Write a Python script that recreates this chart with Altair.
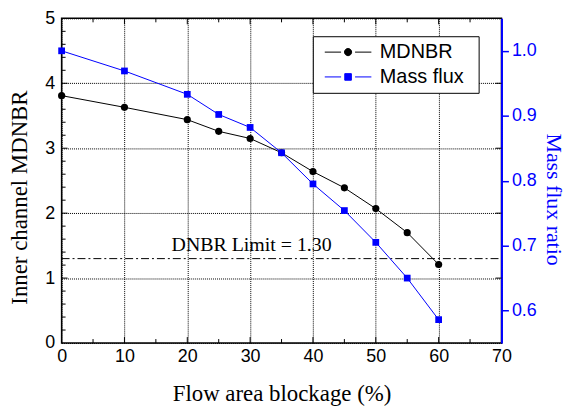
import altair as alt
import pandas as pd

# ---------------- data ----------------
blockage = [0, 10, 20, 25, 30, 35, 40, 45, 50, 55, 60]
mdnbr = [3.81, 3.63, 3.44, 3.26, 3.15, 2.93, 2.64, 2.39, 2.07, 1.70, 1.21]
mass_flux = [1.00, 0.969, 0.933, 0.902, 0.882, 0.843, 0.795, 0.754, 0.705, 0.650, 0.586]
series_names = ["MDNBR", "Mass flux"]
dnbr_limit = [1.30]
limit_label = ["DNBR Limit = 1.30"]
limit_label_x = [17.5]

x_ticks = [0, 10, 20, 30, 40, 50, 60, 70]
x_minor = [5, 15, 25, 35, 45, 55, 65]
y_left_ticks = [0, 1, 2, 3, 4, 5]
y_left_inner = [1, 2, 3, 4]
y_left_minor = [0.2, 0.4, 0.6, 0.8, 1.2, 1.4, 1.6, 1.8, 2.2, 2.4, 2.6, 2.8,
                3.2, 3.4, 3.6, 3.8, 4.2, 4.4, 4.6, 4.8]
y_right_ticks = [0.6, 0.7, 0.8, 0.9, 1.0]

W, H = 443, 327
SANS = "Liberation Sans"
SERIF = "Liberation Serif"
BLUE = "#0000ff"

df = pd.DataFrame({"x": blockage, "y": mdnbr, "m": mass_flux})

x_enc = alt.X(
    "x:Q",
    scale=alt.Scale(domain=[0, 70], nice=False, zero=False),
    axis=alt.Axis(
        values=x_ticks, format="d", title="Flow area blockage (%)",
        ticks=False, domain=False, grid=True, gridDash=[1, 1], gridColor="#000",
        gridWidth=1, labelFont=SANS, labelFontSize=18, labelColor="black",
        labelPadding=5, labelFlush=False, labelOverlap=False,
        titleFont=SERIF, titleFontSize=23, titleFontWeight="normal",
        titleColor="black", titleY=58, titleBaseline="alphabetic",
    ),
)

yL_enc = alt.Y(
    "y:Q",
    scale=alt.Scale(domain=[0, 5], nice=False, zero=False),
    axis=alt.Axis(
        values=y_left_ticks, format="d", title="Inner channel MDNBR",
        ticks=False, domain=False, grid=True, gridDash=[1, 1], gridColor="#000",
        gridWidth=1, labelFont=SANS, labelFontSize=18, labelColor="black",
        labelPadding=7, labelFlush=False, labelOverlap=False,
        titleFont=SERIF, titleFontSize=23, titleFontWeight="normal",
        titleColor="black", titleX=-35, titleY=180, titleAngle=270,
        titleBaseline="alphabetic", titleAlign="center",
    ),
)

yR_enc = alt.Y(
    "m:Q",
    scale=alt.Scale(domain=[0.55, 1.05], nice=False, zero=False),
    axis=alt.Axis(
        orient="right", values=y_right_ticks, format=".1f", title="Mass flux ratio",
        grid=False, domain=True, domainColor=BLUE, domainWidth=2,
        ticks=True, tickColor=BLUE, tickSize=7, tickWidth=1.5,
        labelFont=SANS, labelFontSize=18, labelColor=BLUE, labelPadding=3,
        labelFlush=False, labelOverlap=False,
        titleFont=SERIF, titleFontSize=22, titleFontWeight="normal",
        titleColor=BLUE, titleX=45, titleY=182, titleAngle=90,
        titleBaseline="alphabetic", titleAlign="center",
    ),
)

# ---------------- inward frame ticks ----------------
def yrule(vals, x0, x1):
    return alt.Chart(pd.DataFrame({"y": vals})).mark_rule(
        color="black", strokeWidth=1
    ).encode(y=yL_enc, x=alt.value(x0), x2=alt.value(x1))


def xrule(vals, y0, y1):
    return alt.Chart(pd.DataFrame({"x": vals})).mark_rule(
        color="black", strokeWidth=1
    ).encode(x=x_enc, y=alt.value(y0), y2=alt.value(y1))


ticks_layers = [
    yrule(y_left_inner, 0, 6),
    yrule(y_left_minor, 0, 4),
    yrule(y_left_inner, W - 6, W),
    xrule(x_ticks[1:-1], H, H - 6),
    xrule(x_minor, H, H - 4),
    xrule(x_ticks[1:-1], 0, 6),
    xrule(x_minor, 0, 4),
]

# ---------------- left series ----------------
mdnbr_line = alt.Chart(df).mark_line(color="black", strokeWidth=1).encode(x=x_enc, y=yL_enc)
mdnbr_pts = alt.Chart(df).mark_point(
    shape="circle", filled=True, size=52, color="black", opacity=1
).encode(x=x_enc, y=yL_enc)

limit_rule = alt.Chart(pd.DataFrame({"y": dnbr_limit})).mark_rule(
    color="black", strokeWidth=1, strokeDash=[8, 3, 2, 3]
).encode(y=yL_enc, x=alt.value(0), x2=alt.value(W))

limit_text = alt.Chart(
    pd.DataFrame({"x": limit_label_x, "y": dnbr_limit, "t": limit_label})
).mark_text(
    align="left", baseline="alphabetic", dy=-8, font=SERIF, fontSize=20, color="black"
).encode(x=x_enc, y=yL_enc, text="t:N")

left = alt.layer(*ticks_layers, limit_rule, limit_text, mdnbr_line, mdnbr_pts)

# ---------------- right series ----------------
mf_line = alt.Chart(df).mark_line(color=BLUE, strokeWidth=1).encode(x=x_enc, y=yR_enc)
mf_pts = alt.Chart(df).mark_point(
    shape="square", filled=True, size=46, color=BLUE, opacity=1
).encode(x=x_enc, y=yR_enc)
right = alt.layer(mf_line, mf_pts)

# ---------------- legend ----------------
path_c = ("M-3.1,0M-2.47,0L-0.74,0M0.74,0L2.47,0M13.0,0"
          "M0.38,0A0.38,0.38,0,1,1,-0.38,0A0.38,0.38,0,1,1,0.38,0Z")
path_s = ("M-3.1,0M-2.47,0L-0.74,0M0.74,0L2.47,0M13.0,0"
          "M-0.35,-0.35L0.35,-0.35L0.35,0.35L-0.35,0.35Z")

leg_def = alt.Legend(
    title=None, orient="none", legendX=253, legendY=18,
    fillColor="white", strokeColor="black", padding=6,
    symbolSize=361, symbolStrokeWidth=1, symbolOpacity=1, symbolOffset=19.5,
    labelFont=SANS, labelFontSize=20, labelColor="black", labelOffset=22,
    rowPadding=5,
)
leg = alt.Chart(pd.DataFrame({"series": series_names})).mark_point(
    filled=True, opacity=0
).encode(
    x=alt.value(0), y=alt.value(0),
    fill=alt.Fill("series:N", scale=alt.Scale(domain=series_names, range=["black", BLUE]), legend=leg_def),
    stroke=alt.Stroke("series:N", scale=alt.Scale(domain=series_names, range=["black", BLUE]), legend=leg_def),
    shape=alt.Shape("series:N", scale=alt.Scale(domain=series_names, range=[path_c, path_s]), legend=leg_def),
)

chart = alt.layer(left, right, leg).resolve_scale(y="independent").properties(
    width=W, height=H,
    autosize=alt.AutoSizeParams(type="none"),
    padding={"left": 54, "top": 9, "right": 67, "bottom": 63},
    background="white",
).configure_view(stroke="black", strokeWidth=1.5).configure_legend(strokeWidth=1)

chart.save("out.html", embed_options={"renderer": "svg", "actions": False})
